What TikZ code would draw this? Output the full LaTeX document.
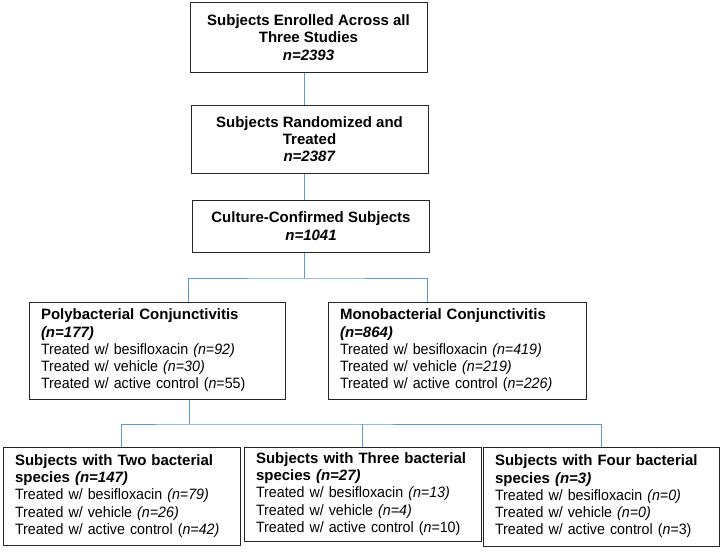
\documentclass[tikz,border=0pt]{standalone}
\usepackage{fontspec}
\setmainfont{Liberation Sans}[
    UprightFeatures={FakeStretch=0.95},
    ItalicFeatures={FakeStretch=0.95}]
\definecolor{linkblue}{RGB}{91,155,213}
\newcommand*{\nn}[1]{\textit{#1}}
\tikzset{
    box/.style = {draw=black!85,line width=1pt,inner xsep=12pt,inner ysep=0pt,
        font=\fontsize{15}{17.3}\selectfont},
    headbox/.style = {box,align=center,minimum width=237pt},
    armbox/.style = {box,align=left},
    link/.style = {draw=linkblue,line width=0.9pt}
}

\begin{document}
\begin{tikzpicture}[x=1pt,y=-1pt]
        \useasboundingbox (0,0) rectangle (722,551);
        % Trunk
        \node[headbox,minimum height=69pt] (enrol) at (308.5,37.5)
            {\textbf{Subjects Enrolled Across all}\\\textbf{Three Studies}\\\textbf{\nn{n=2393}}};
        \node[headbox,minimum height=68pt] (rand) at (309.5,139)
            {\textbf{Subjects Randomized and}\\\textbf{Treated}\\\textbf{\nn{n=2387}}};
        \node[headbox,minimum height=52pt] (cult) at (311,226)
            {\textbf{Culture-Confirmed Subjects}\\\textbf{\nn{n=1041}}};
        % Infection type
        \node[armbox,text width=232pt,minimum height=97pt] (poly) at (157,350.5)
            {\textbf{Polybacterial Conjunctivitis}\\\textbf{\nn{(n=177)}}\\
             Treated w/ besifloxacin \nn{(n=92)}\\
             Treated w/ vehicle \nn{(n=30)}\\
             Treated w/ active control (\nn{n}=55)};
        \node[armbox,text width=234pt,minimum height=97pt] (mono) at (457,350.5)
            {\textbf{Monobacterial Conjunctivitis}\\\textbf{\nn{(n=864)}}\\
             Treated w/ besifloxacin \nn{(n=419)}\\
             Treated w/ vehicle \nn{(n=219)}\\
             Treated w/ active control (\nn{n=226)}};
        % Species count
        \node[armbox,text width=213pt,minimum height=98pt] (two) at (121.5,496)
            {\textbf{Subjects with Two bacterial}\\\textbf{species \nn{(n=147)}}\\
             Treated w/ besifloxacin \nn{(n=79)}\\
             Treated w/ vehicle \nn{(n=26)}\\
             Treated w/ active control (\nn{n=42)}};
        \node[armbox,text width=213pt,minimum height=94pt] (three) at (362.5,494)
            {\textbf{Subjects with Three bacterial}\\\textbf{species \nn{(n=27)}}\\
             Treated w/ besifloxacin \nn{(n=13)}\\
             Treated w/ vehicle \nn{(n=4)}\\
             Treated w/ active control (\nn{n}=10)};
        \node[armbox,text width=212pt,minimum height=99pt] (four) at (601,496.5)
            {\textbf{Subjects with Four bacterial}\\\textbf{species \nn{(n=3)}}\\
             Treated w/ besifloxacin \nn{(n=0)}\\
             Treated w/ vehicle \nn{(n=0)}\\
             Treated w/ active control (\nn{n}=3)};
        % Links
        \coordinate (trunk) at (304,0);
        \coordinate (fork1) at (304,278);
        \coordinate (polytap) at (188,0);
        \coordinate (monotap) at (427,0);
        \coordinate (fork2) at (189,424);
        \draw[link] (enrol.south -| trunk) -- (rand.north -| trunk);
        \draw[link] (rand.south -| trunk) -- (cult.north -| trunk);
        \draw[link] (cult.south -| trunk) -- (fork1);
        \draw[link] (poly.north -| polytap) |- (fork1) -| (mono.north -| monotap);
        \draw[link] (poly.south -| fork2) -- (fork2);
        \draw[link] (two.north) |- (fork2) -| (four.north);
        \draw[link] (three.north) -- (three.north |- fork2);
\end{tikzpicture}
\end{document}
